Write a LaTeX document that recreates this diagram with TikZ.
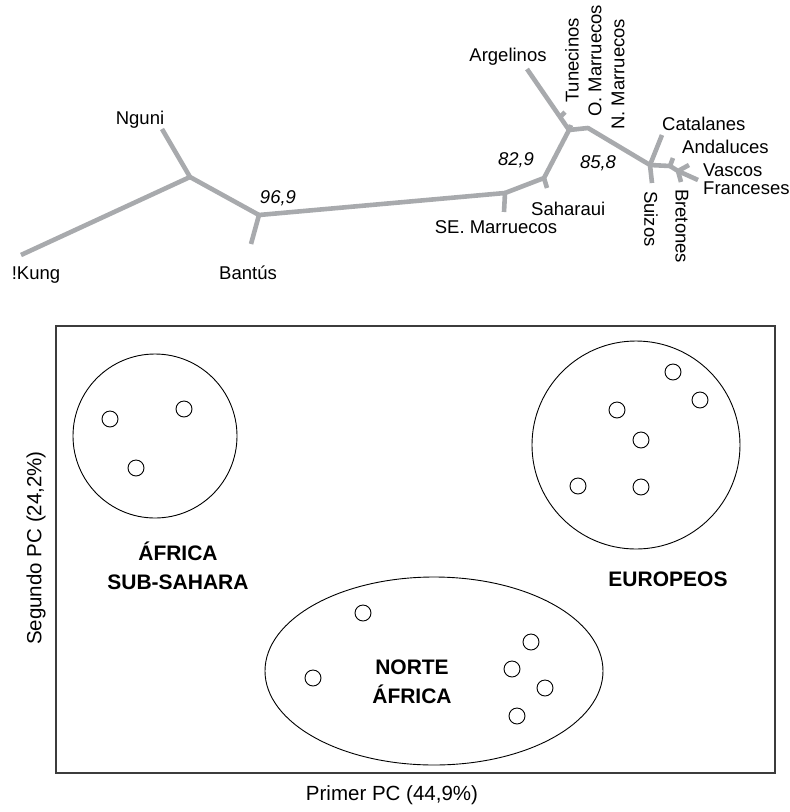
\documentclass[tikz,border=0pt]{standalone}
\usepackage{fontspec}
\setmainfont{Liberation Sans}
\usepackage{tikz}
\usetikzlibrary{positioning}
\usepackage{xcolor}
\definecolor{treegray}{RGB}{168,170,173}
\definecolor{boxgray}{RGB}{60,60,60}

\begin{document}
\begin{tikzpicture}[x=1pt,y=-1pt,
    branch/.style={draw=treegray,line width=4.6pt,line join=round},
    taxon/.style={inner sep=0pt,font=\fontsize{18.5}{20}\selectfont},
    boot/.style={inner sep=0pt,font=\fontsize{18.5}{20}\selectfont\itshape},
    pop/.style={draw=black,circle,line width=0.9pt,minimum size=16pt,inner sep=0pt},
    cluster/.style={draw=black,line width=0.9pt},
    grouplabel/.style={align=center,inner sep=0pt,font=\fontsize{21}{29}\selectfont\bfseries},
    axislabel/.style={inner sep=0pt,font=\fontsize{20.5}{22}\selectfont}]
  \useasboundingbox (0,0) rectangle (790,812);
  % tree
  \coordinate (kung) at (21,255);
  \coordinate (nguni) at (162,129);
  \coordinate (n1) at (190,177);
  \coordinate (n2) at (259,215);
  \coordinate (bantus) at (251,244);
  \coordinate (n3) at (505,193);
  \coordinate (semar) at (504,212);
  \coordinate (n4) at (544,178);
  \coordinate (sahar) at (547,188);
  \coordinate (n5) at (569,130);
  \coordinate (argel) at (527,69);
  \coordinate (tunroot) at (560,117);
  \coordinate (tunec) at (565,112);
  \coordinate (omar) at (571,125);
  \coordinate (n6) at (588,128);
  \coordinate (n7) at (650,165);
  \coordinate (catal) at (662,135);
  \coordinate (suiz) at (652,183);
  \coordinate (n8) at (670,166);
  \coordinate (andal) at (673,158);
  \coordinate (n9) at (678,171);
  \coordinate (vasc) at (689,165);
  \coordinate (franc) at (698,180);
  \coordinate (breton) at (681,182);
  \draw[branch] (kung) -- (n1) -- (nguni);
  \draw[branch] (n1) -- (n2) -- (bantus);
  \draw[branch] (n2) -- (n3) -- (semar);
  \draw[branch] (n3) -- (n4) -- (sahar);
  \draw[branch] (n4) -- (n5) -- (argel);
  \draw[branch] (tunroot) -- (tunec);
  \draw[branch] (n5) -- (omar);
  \draw[branch] (n5) -- (n6) -- (n7) -- (catal);
  \draw[branch] (n7) -- (suiz);
  \draw[branch] (n7) -- (n8) -- (andal);
  \draw[branch] (n8) -- (n9) -- (vasc);
  \draw[branch] (n9) -- (franc);
  \draw[branch] (n9) -- (breton);
  \node[taxon] (lnguni) at (140,120) {Nguni};
  \node[taxon] (lkung) at (36,275) {!Kung};
  \node[taxon] (lbantus) at (248,273) {Bantús};
  \node[taxon] (lsemar) at (496,227) {SE. Marruecos};
  \node[taxon,anchor=west] (lsahar) at (531,209) {Saharaui};
  \node[taxon] (largel) at (508,57) {Argelinos};
  \node[taxon,rotate=90,anchor=west] (ltunec) at (572,103) {Tunecinos};
  \node[taxon,rotate=90,anchor=west] (lomar) at (595,117) {O. Marruecos};
  \node[taxon,rotate=90,anchor=west] (lnmar) at (618,130) {N. Marruecos};
  \node[taxon,anchor=west] (lcatal) at (662,124) {Catalanes};
  \node[taxon,anchor=west] (landal) at (682,147) {Andaluces};
  \node[taxon,anchor=west] (lvasc) at (703,170) {Vascos};
  \node[taxon,anchor=west] (lfranc) at (703,188) {Franceses};
  \node[taxon,rotate=-90,anchor=west] (lsuiz) at (651,191) {Suizos};
  \node[taxon,rotate=-90,anchor=west] (lbreton) at (682,189) {Bretones};
  \node[boot] (b1) at (278,198) {96,9};
  \node[boot] (b2) at (516,160) {82,9};
  \node[boot] (b3) at (598,163) {85,8};
  % PCA plot
  \node[draw=boxgray,line width=1.2pt,minimum width=719pt,minimum height=447pt,inner sep=0pt] (plot) at (415.5,549.5) {};
  \node[axislabel] (xlab) at (392,795) {Primer PC (44,9\%)};
  \node[axislabel,rotate=90] (ylab) at (36,548) {Segundo PC (24,2\%)};
  \draw[cluster] (155,436) circle[radius=82];
  \draw[cluster] (636,445) circle[radius=104];
  \draw[cluster] (434,671) ellipse[x radius=169,y radius=94];
  \node[grouplabel] (afsub) at (178,566) {ÁFRICA\\SUB-SAHARA};
  \node[grouplabel] (euro) at (668,579) {EUROPEOS};
  \node[grouplabel] (norte) at (412,682) {NORTE\\ÁFRICA};
  \foreach \px/\py in {110/419,184/409,136/468,
                       673/372,700/400,617/410,641/440,578/486,641/487,
                       363/613,531/642,512/669,545/688,517/716,313/678}
    \node[pop] at (\px,\py) {};
\end{tikzpicture}
\end{document}
